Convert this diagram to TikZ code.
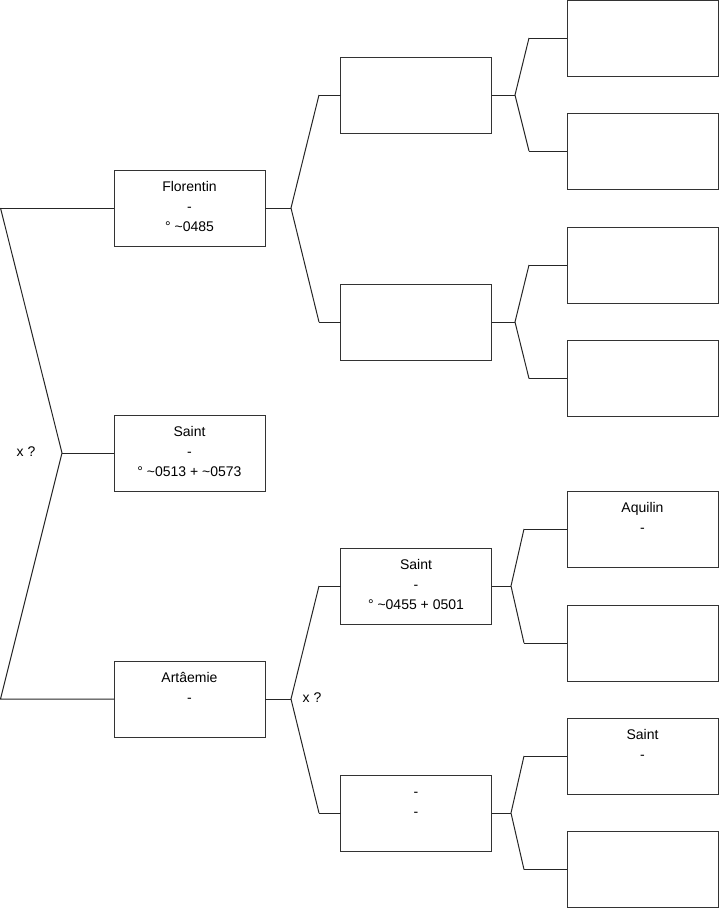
\documentclass[tikz,border=0pt]{standalone}
\usepackage{fontspec}
\setmainfont{Liberation Sans}
\begin{document}
\begin{tikzpicture}[x=0.75pt,y=-0.75pt,
  person/.style={draw=black!80,line width=0.75pt,minimum width=113.25pt,minimum height=57pt,inner sep=0pt,outer sep=0pt},
  label/.style={anchor=north,align=center,inner sep=0pt,font=\fontsize{10.5}{15}\selectfont},
  conn/.style={draw=black!85,line width=0.75pt},
  note/.style={inner sep=0pt,font=\fontsize{10.5}{15}\selectfont}]
\useasboundingbox (0,0) rectangle (719,908);
\newcommand{\lbl}[2]{\node[label] at ([yshift=-5.25pt]#1.north) {#2};}
% generation 1
\node[person] (flor) at (189.5,208) {};
\node[person] (sm) at (189.5,453) {};
\node[person] (art) at (189.5,699) {};
% generation 2
\node[person] (b1) at (416,95) {};
\node[person] (b2) at (416,322) {};
\node[person] (b3) at (416,586) {};
\node[person] (b4) at (416,813) {};
% generation 3
\node[person] (c1) at (642.5,38) {};
\node[person] (c2) at (642.5,151) {};
\node[person] (c3) at (642.5,265) {};
\node[person] (c4) at (642.5,378.5) {};
\node[person] (c5) at (642.5,529) {};
\node[person] (c6) at (642.5,643) {};
\node[person] (c7) at (642.5,756) {};
\node[person] (c8) at (642.5,869.5) {};
% texts
\lbl{flor}{\strut Florentin\\\strut -\\\strut ° \textasciitilde0485}
\lbl{sm}{\strut Saint\\\strut -\\\strut ° \textasciitilde0513 + \textasciitilde0573}
\lbl{art}{\strut Artâemie\\\strut -}
\lbl{b3}{\strut Saint\\\strut -\\\strut ° \textasciitilde0455 + 0501}
\lbl{b4}{\strut -\\\strut -}
\lbl{c5}{\strut Aquilin\\\strut -}
\lbl{c7}{\strut Saint\\\strut -}
\node[note] (q1) at (26,452) {x ?};
\node[note] (q2) at (312,698) {x ?};
% coordinates
\coordinate (l1) at (0.5,208);
\coordinate (l0) at (62,453);
\coordinate (l3) at (0.5,699);
\coordinate (f0) at (291,208);
\coordinate (f1) at (319,95);
\coordinate (f2) at (319,322);
\coordinate (a0) at (291,699);
\coordinate (a1) at (319,586);
\coordinate (a2) at (319,813);
\coordinate (p0) at (515,95);
\coordinate (p1) at (529,38);
\coordinate (p2) at (529,151);
\coordinate (q0) at (515,322);
\coordinate (qa) at (529,265);
\coordinate (qb) at (529,378.5);
\coordinate (r0) at (511,586);
\coordinate (r1) at (524,529);
\coordinate (r2) at (524,643);
\coordinate (s0) at (511,813);
\coordinate (s1) at (524,756);
\coordinate (s2) at (524,869.5);
% connectors
\draw[conn] (l1) -- (flor.west);
\draw[conn] (l1) -- (l0) -- (l3) -- (art.west);
\draw[conn] (l0) -- (sm.west);
\draw[conn] (flor.east) -- (f0);
\draw[conn] (f1) -- (f0) -- (f2);
\draw[conn] (f1) -- (b1.west);
\draw[conn] (f2) -- (b2.west);
\draw[conn] (art.east) -- (a0);
\draw[conn] (a1) -- (a0) -- (a2);
\draw[conn] (a1) -- (b3.west);
\draw[conn] (a2) -- (b4.west);
\draw[conn] (b1.east) -- (p0);
\draw[conn] (p1) -- (p0) -- (p2);
\draw[conn] (p1) -- (c1.west);
\draw[conn] (p2) -- (c2.west);
\draw[conn] (b2.east) -- (q0);
\draw[conn] (qa) -- (q0) -- (qb);
\draw[conn] (qa) -- (c3.west);
\draw[conn] (qb) -- (c4.west);
\draw[conn] (b3.east) -- (r0);
\draw[conn] (r1) -- (r0) -- (r2);
\draw[conn] (r1) -- (c5.west);
\draw[conn] (r2) -- (c6.west);
\draw[conn] (b4.east) -- (s0);
\draw[conn] (s1) -- (s0) -- (s2);
\draw[conn] (s1) -- (c7.west);
\draw[conn] (s2) -- (c8.west);
\end{tikzpicture}
\end{document}
